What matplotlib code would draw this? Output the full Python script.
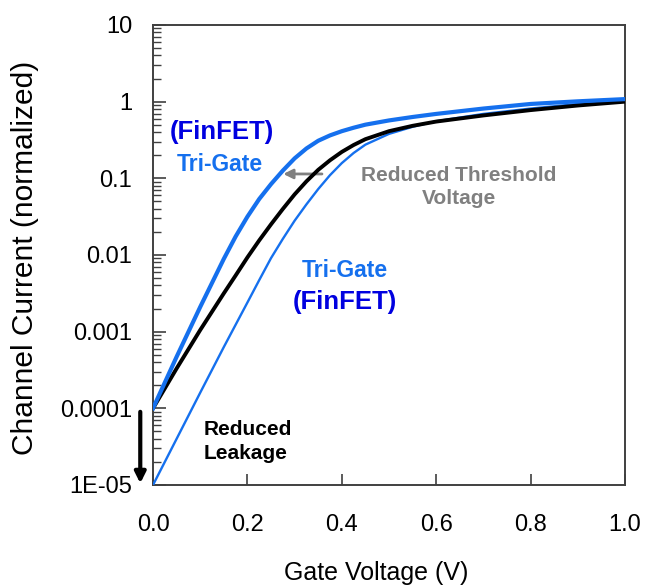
import numpy as np
import matplotlib
matplotlib.use("Agg")
import matplotlib.pyplot as plt
from matplotlib.ticker import FixedLocator, FixedFormatter, LogLocator, NullFormatter

plt.rcParams["font.family"] = ["Liberation Sans", "DejaVu Sans"]

# gate voltage (V), shared by the three curves
gate_v = [0.0, 0.05, 0.10, 0.15, 0.175, 0.20, 0.225, 0.25, 0.275, 0.30, 0.325, 0.35, 0.375,
          0.40, 0.425, 0.45, 0.50, 0.55, 0.60, 0.70, 0.80, 0.90, 1.0]

# tri-gate, reduced threshold voltage (thick blue)
trigate_low_vt = [1.0e-4, 4.7e-4, 2.1e-3, 8.9e-3, 0.0174, 0.0316, 0.0537, 0.084, 0.126, 0.182,
                  0.245, 0.309, 0.363, 0.412, 0.457, 0.501, 0.569, 0.631, 0.692, 0.813,
                  0.933, 1.01, 1.08]

# planar reference (black)
planar = [1.0e-4, 3.31e-4, 1.05e-3, 3.16e-3, 5.4e-3, 9.3e-3, 0.0155, 0.0251, 0.0398, 0.0617,
          0.0912, 0.129, 0.172, 0.221, 0.272, 0.324, 0.412, 0.484, 0.550, 0.661,
          0.776, 0.891, 1.0]

# tri-gate, reduced leakage (thin blue)
trigate_low_leak = [1.0e-5, 4.0e-5, 1.6e-4, 6.3e-4, 1.23e-3, 2.4e-3, 4.7e-3, 9.1e-3, 0.0162, 0.028,
                    0.0457, 0.0724, 0.110, 0.158, 0.214, 0.275, 0.380, 0.470, 0.556, 0.692,
                    0.813, 0.933, 1.05]

y_ticks = [1e-5, 1e-4, 1e-3, 1e-2, 1e-1, 1, 10]
y_labels = ["1E-05", "0.0001", "0.001", "0.01", "0.1", "1", "10"]
x_ticks = [0.0, 0.2, 0.4, 0.6, 0.8, 1.0]
x_labels = ["0.0", "0.2", "0.4", "0.6", "0.8", "1.0"]

BLUE = "#1570ee"
DARK_BLUE = "#0000e0"
GRAY = "#808080"
FRAME = "#404040"

fig = plt.figure(figsize=(6.47, 5.88), dpi=100)
ax = fig.add_axes([0.2365, 0.1752, 0.7295, 0.7823])

ax.plot(gate_v, trigate_low_leak, color=BLUE, lw=1.7, zorder=3)
ax.plot(gate_v, planar, color="black", lw=2.8, zorder=4)
ax.plot(gate_v, trigate_low_vt, color=BLUE, lw=3.0, zorder=5)

ax.set_yscale("log")
ax.set_xlim(0, 1.0)
ax.set_ylim(1e-5, 10)

ax.yaxis.set_major_locator(FixedLocator(y_ticks))
ax.yaxis.set_major_formatter(FixedFormatter(y_labels))
ax.yaxis.set_minor_locator(LogLocator(base=10, subs=np.arange(2, 10)))
ax.yaxis.set_minor_formatter(NullFormatter())
ax.set_xticks(x_ticks, x_labels)

ax.tick_params(axis="y", which="major", direction="in", length=9, width=1.2,
               color=FRAME, labelsize=17, pad=15)
ax.tick_params(axis="y", which="minor", direction="in", length=6, width=1.0, color=FRAME)
ax.tick_params(axis="x", which="major", direction="in", length=8, width=1.2,
               color=FRAME, labelsize=17, pad=21)
for s in ax.spines.values():
    s.set_color(FRAME)
    s.set_linewidth(1.4)

fig.text(25 / 647, 1 - 258 / 588, "Channel Current (normalized)", fontsize=21.5,
         rotation=90, ha="center", va="center")
fig.text(376 / 647, 1 - 573 / 588, "Gate Voltage (V)", fontsize=18,
         ha="center", va="center")

# annotations
ax.text(0.146, 0.40, "(FinFET)", color=DARK_BLUE, fontsize=18.5, fontweight="bold",
        ha="center", va="center")
ax.text(0.142, 0.152, "Tri-Gate", color=BLUE, fontsize=16.5, fontweight="bold",
        ha="center", va="center")
ax.text(0.407, 0.0062, "Tri-Gate", color=BLUE, fontsize=16.5, fontweight="bold",
        ha="center", va="center")
ax.text(0.407, 0.00244, "(FinFET)", color=DARK_BLUE, fontsize=18.5, fontweight="bold",
        ha="center", va="center")
ax.text(0.648, 0.077, "Reduced Threshold\nVoltage", color=GRAY, fontsize=15,
        fontweight="bold", ha="center", va="center", linespacing=1.27)
ax.text(0.108, 3.7e-5, "Reduced\nLeakage", color="black", fontsize=15,
        fontweight="bold", ha="left", va="center", linespacing=1.35)

ax.annotate("", xy=(0.276, 0.114), xytext=(0.358, 0.114),
            arrowprops=dict(arrowstyle="-|>", color=GRAY, lw=2, mutation_scale=14,
                            shrinkA=0, shrinkB=0))
ax.annotate("", xy=(-0.027, 1.05e-5), xytext=(-0.027, 9e-5), annotation_clip=False,
            arrowprops=dict(arrowstyle="-|>", color="black", lw=3, mutation_scale=16,
                            shrinkA=0, shrinkB=0))

fig.savefig("out.png", dpi=100)
